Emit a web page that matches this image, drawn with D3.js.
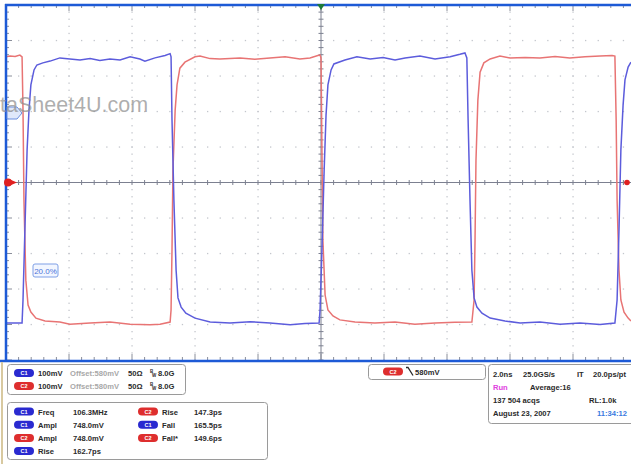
<!DOCTYPE html>
<html>
<head>
<meta charset="utf-8">
<title>scope</title>
<script src="https://d3js.org/d3.v7.min.js"></script>
<style>
  body {margin:0; background:#fff; overflow:hidden;}
  svg {display:block; font-family:"Liberation Sans", Arial, sans-serif;}
</style>
</head>
<body>
<script>
// C1 (blue) and C2 (red) traces, time in ns from trigger, level in mV
const c1Time = [-10,-9.49,-9.46,-9.40,-9.33,-9.27,-9.21,-9.11,-9.02,-8.83,-8.60,-8.29,-7.97,-7.65,-7.33,-7.02,-6.70,-6.38,-6.06,-5.75,-5.59,-5.27,-4.95,-4.79,-4.76,-4.73,-4.67,-4.60,-4.54,-4.44,-4.29,-4.00,-3.52,-2.89,-2.25,-1.62,-0.98,-0.51,-0.06,-0.03,0.03,0.10,0.16,0.22,0.32,0.41,0.76,1.14,1.56,1.97,2.35,2.67,3.14,3.62,4.10,4.41,4.57,4.63,4.67,4.73,4.79,4.86,4.95,5.11,5.37,5.84,6.32,6.95,7.59,8.22,8.86,9.33,9.40,9.46,9.52,9.59,9.65,9.75,9.84];
const c1mV   = [184,184,249,446,672,784,855,897,911,917,922,931,928,925,929,924,928,925,934,928,922,931,938,943,934,756,531,333,255,229,212,198,187,184,188,184,179,183,184,221,390,615,770,855,897,914,925,934,928,932,925,931,936,928,934,941,945,931,756,531,333,255,229,212,198,190,184,187,181,184,180,184,249,446,672,798,869,905,919];

const c2Time = [-10,-9.87,-9.71,-9.56,-9.49,-9.46,-9.43,-9.37,-9.30,-9.21,-9.05,-8.76,-8.29,-7.97,-7.33,-6.70,-6.06,-5.43,-5.11,-4.79,-4.76,-4.73,-4.70,-4.63,-4.57,-4.48,-4.32,-4.00,-3.84,-3.52,-3.21,-2.57,-2.10,-1.62,-1.14,-0.67,-0.35,-0.10,-0.03,0.00,0.03,0.06,0.13,0.22,0.38,0.60,1.08,1.71,2.35,2.98,3.62,4.25,4.79,4.86,4.89,4.92,4.98,5.05,5.17,5.37,5.68,6.00,6.48,6.95,7.43,7.90,8.38,8.86,9.24,9.33,9.37,9.40,9.46,9.52,9.62,9.75,9.84];
const c2mV   = [934,936,935,939,934,784,531,305,235,215,198,190,187,181,184,187,181,179,181,187,221,390,615,784,855,902,919,934,936,929,928,931,927,931,934,928,931,938,939,931,672,418,263,221,204,193,187,184,187,181,184,186,187,249,418,643,812,891,917,928,936,931,932,931,935,931,934,936,938,936,756,531,333,249,215,198,190];

// readouts
const setupCh = ["C1", "C2"];
const setupScale = ["100mV", "100mV"];
const setupOffset = ["Offset:580mV", "Offset:580mV"];
const setupTerm = ["50Ω", "50Ω"];
const setupBw = ["8.0G", "8.0G"];

const measCh = ["C1", "C1", "C2", "C1", "C2", "C1", "C2"];
const measName = ["Freq", "Ampl", "Ampl", "Rise", "Rise", "Fall", "Fall*"];
const measValue = ["106.3MHz", "748.0mV", "748.0mV", "162.7ps", "147.3ps", "165.5ps", "149.6ps"];

const trigCh = "C2";
const trigLevel = "580mV";

const acqRow1 = ["2.0ns", "25.0GS/s", "IT", "20.0ps/pt"];
const acqRow2 = ["Run", "Average:16"];
const acqRow3 = ["137 504 acqs", "RL:1.0k"];
const acqRow4 = ["August 23, 2007", "11:34:12"];

const W = 631, H = 464;
const blue = "#5c5cdc", red = "#e87474", frame = "#1d5ad6";

const svg = d3.select("body").append("svg").attr("width", W).attr("height", H);

const x = d3.scaleLinear().domain([-10, 10]).range([6, 636]);
const y = d3.scaleLinear().domain([80, 1080]).range([360, 5]);

const gGrid = svg.append("g");
const majX = d3.range(-10, 10.01, 2), majY = d3.range(80, 1080.1, 100);
const minX = d3.range(-10, 10.01, 0.4), minY = d3.range(80, 1080.1, 20);

// dotted graticule
majY.filter(v => v != 80 && v != 580 && v != 1080).forEach(v => {
  gGrid.selectAll(null).data(minX).enter().append("rect")
    .attr("x", d => x(d) - 0.6).attr("y", y(v) - 0.6).attr("width", 1.3).attr("height", 1.3)
    .attr("fill", "#c3c6cc");
});
majX.filter(v => v != -10 && v != 0).forEach(v => {
  gGrid.selectAll(null).data(minY).enter().append("rect")
    .attr("x", x(v) - 0.6).attr("y", d => y(d) - 0.6).attr("width", 1.3).attr("height", 1.3)
    .attr("fill", "#c3c6cc");
});

// centre cross with ticks
gGrid.append("line").attr("x1", 6).attr("x2", W).attr("y1", y(580)).attr("y2", y(580))
  .attr("stroke", "#7c8090").attr("stroke-width", 1);
gGrid.append("line").attr("x1", x(0)).attr("x2", x(0)).attr("y1", 5).attr("y2", 360)
  .attr("stroke", "#7c8090").attr("stroke-width", 1);
gGrid.selectAll(null).data(minX).enter().append("line")
  .attr("x1", d => x(d)).attr("x2", d => x(d))
  .attr("y1", y(580) - 2.5).attr("y2", y(580) + 2.5)
  .attr("stroke", "#7c8090");
gGrid.selectAll(null).data(minY).enter().append("line")
  .attr("y1", d => y(d)).attr("y2", d => y(d))
  .attr("x1", x(0) - 2.5).attr("x2", x(0) + 2.5)
  .attr("stroke", "#7c8090");

// edge ticks
const isMajX = d => Math.abs(d / 2 - Math.round(d / 2)) < 0.01;
const isMajY = d => (Math.round(d) - 80) % 100 == 0;
gGrid.selectAll(null).data(minX).enter().append("line")
  .attr("x1", d => x(d)).attr("x2", d => x(d))
  .attr("y1", 5).attr("y2", d => isMajX(d) ? 11 : 8)
  .attr("stroke", "#8a8e9a");
gGrid.selectAll(null).data(minX).enter().append("line")
  .attr("x1", d => x(d)).attr("x2", d => x(d))
  .attr("y1", 360).attr("y2", d => isMajX(d) ? 354 : 357)
  .attr("stroke", "#8a8e9a");
gGrid.selectAll(null).data(minY).enter().append("line")
  .attr("y1", d => y(d)).attr("y2", d => y(d))
  .attr("x1", 6).attr("x2", d => isMajY(d) ? 12 : 9)
  .attr("stroke", "#8a8e9a");

// traces
svg.append("clipPath").attr("id", "plot").append("rect")
  .attr("x", 6).attr("y", 5).attr("width", W - 6).attr("height", 355);
const line = d3.line().x(d => x(d[0])).y(d => y(d[1]));
svg.append("path").datum(d3.zip(c2Time, c2mV)).attr("d", line)
  .attr("fill", "none").attr("stroke", red).attr("stroke-width", 1.5).attr("clip-path", "url(#plot)");
svg.append("path").datum(d3.zip(c1Time, c1mV)).attr("d", line)
  .attr("fill", "none").attr("stroke", blue).attr("stroke-width", 1.5).attr("clip-path", "url(#plot)");

// frame
svg.append("line").attr("x1", 5).attr("x2", W).attr("y1", 5).attr("y2", 5)
  .attr("stroke", frame).attr("stroke-width", 2.5);
svg.append("line").attr("x1", 6).attr("x2", 6).attr("y1", 4).attr("y2", 361)
  .attr("stroke", frame).attr("stroke-width", 2.5);
svg.append("line").attr("x1", 0).attr("x2", W).attr("y1", 361).attr("y2", 361)
  .attr("stroke", frame).attr("stroke-width", 2.5);

// markers
svg.append("path").attr("d", `M${x(0) - 4},4 L${x(0) + 4},4 L${x(0)},10 Z`).attr("fill", "#1d7a3a");
svg.append("circle").attr("cx", 8).attr("cy", y(580)).attr("r", 4).attr("fill", "#e02020");
svg.append("path").attr("d", `M10,${y(580) - 3} L17,${y(580)} L10,${y(580) + 3} Z`).attr("fill", "#e02020");
svg.append("circle").attr("cx", 627).attr("cy", y(580)).attr("r", 2.8).attr("fill", "#e02020");
svg.append("path").attr("d", "M7,107 L17,107 L22,113 L17,119 L7,119 Z")
  .attr("fill", "#d8e2fa").attr("stroke", "#6a8ee0").attr("fill-opacity", 0.8);
svg.append("rect").attr("x", 33).attr("y", 264).attr("width", 25).attr("height", 13).attr("rx", 2)
  .attr("fill", "#f2f6ff").attr("stroke", "#7f9fe6");
svg.append("text").attr("x", 45.5).attr("y", 273.5).attr("text-anchor", "middle")
  .attr("font-size", 8).attr("fill", "#4d74d8").text("20.0%");

// watermark over the plot
svg.append("text").attr("x", 0).attr("y", 112)
  .attr("font-size", 21.5).attr("fill", "#8f8f8f").attr("fill-opacity", 0.72)
  .text("taSheet4U.com");

// readout panel
svg.append("line").attr("x1", 2).attr("x2", 2).attr("y1", 362).attr("y2", H)
  .attr("stroke", "#d8c9a0").attr("stroke-width", 2);

function box(bx, by, bw, bh) {
  svg.append("rect").attr("x", bx).attr("y", by).attr("width", bw).attr("height", bh)
    .attr("rx", 3).attr("fill", "#fff").attr("stroke", "#9a9a9a").attr("stroke-width", 1);
}
function pill(px, py, ch) {
  const c = ch == "C1" ? "#2a2ad0" : "#de2e2e";
  svg.append("rect").attr("x", px).attr("y", py - 4).attr("width", 20).attr("height", 8)
    .attr("rx", 4).attr("fill", c);
  svg.append("text").attr("x", px + 10).attr("y", py + 2).attr("text-anchor", "middle")
    .attr("font-size", 5.5).attr("font-weight", "bold").attr("fill", "#fff").text(ch);
}
function txt(tx, ty, s, col, anchor) {
  svg.append("text").attr("x", tx).attr("y", ty).attr("font-size", 7.6).attr("font-weight", "bold")
    .attr("fill", col || "#2a2a2a").attr("text-anchor", anchor || "start").text(s);
}

box(7.5, 364.5, 178, 30);
setupCh.forEach((ch, i) => {
  const cy = 373 + i * 13;
  pill(14, cy, ch);
  txt(38, cy + 3, setupScale[i]);
  txt(70, cy + 3, setupOffset[i], "#a8a8a8");
  txt(128, cy + 3, setupTerm[i]);
  svg.append("text").attr("x", 150).attr("y", cy - 0.5).attr("font-size", 4.5).attr("font-weight", "bold")
    .attr("fill", "#2a2a2a").text("B");
  svg.append("text").attr("x", 152).attr("y", cy + 3.5).attr("font-size", 4.5).attr("font-weight", "bold")
    .attr("fill", "#2a2a2a").text("W");
  txt(158, cy + 3, setupBw[i]);
});

box(7.5, 402.5, 260, 57);
measCh.forEach((ch, i) => {
  const col = i < 4 ? 0 : 1, row = i < 4 ? i : i - 4;
  const cy = 411.5 + row * 13.2;
  const ox = col == 0 ? 14 : 138;
  pill(ox, cy, ch);
  txt(ox + 24, cy + 3, measName[i]);
  txt(col == 0 ? 73 : 194, cy + 3, measValue[i]);
});

box(368.5, 364.5, 117, 15);
pill(383, 371.5, trigCh);
svg.append("path").attr("d", "M406,367.5 L408,367.5 L413,375.5").attr("fill", "none")
  .attr("stroke", "#2a2a2a").attr("stroke-width", 1.3);
txt(415, 374.5, trigLevel);

box(488.5, 364.5, 160, 59);
txt(493, 377, acqRow1[0]);
txt(523, 377, acqRow1[1]);
txt(577, 377, acqRow1[2]);
txt(593, 377, acqRow1[3]);
txt(493, 390, acqRow2[0], "#e040e0");
txt(530, 390, acqRow2[1]);
txt(493, 403, acqRow3[0]);
txt(589, 403, acqRow3[1]);
txt(493, 416, acqRow4[0]);
txt(627, 416, acqRow4[1], "#3a7ae0", "end");
</script>
</body>
</html>
